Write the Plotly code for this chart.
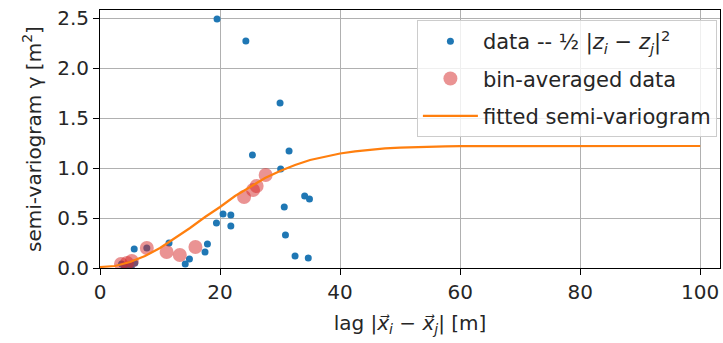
import plotly.graph_objects as go

# raw pair data: lag [m], semi-variance [m^2]
data_lag = [19.5, 24.3, 30.0, 31.5, 25.4, 30.1, 34.1, 34.9, 30.7, 20.5, 21.8, 21.8,
            19.4, 17.9, 17.5, 30.9, 32.5, 34.7, 14.2, 14.9, 11.5, 5.7, 7.8,
            3.6, 4.0, 4.8, 5.2, 5.8]
data_gamma = [2.49, 2.27, 1.65, 1.17, 1.13, 0.99, 0.72, 0.69, 0.61, 0.54, 0.53, 0.42,
              0.45, 0.24, 0.16, 0.33, 0.12, 0.10, 0.04, 0.09, 0.25, 0.19, 0.20,
              0.04, 0.02, 0.03, 0.01, 0.05]

# bin-averaged data
bin_lag = [3.5, 4.5, 5.3, 7.8, 11.1, 13.3, 15.9, 24.0, 25.5, 26.1, 27.6]
bin_gamma = [0.04, 0.05, 0.07, 0.20, 0.16, 0.13, 0.21, 0.71, 0.78, 0.82, 0.93]

# fitted semi-variogram
fit_lag = [0, 2.5, 5, 7.5, 10, 12.5, 15, 17.5, 20, 22.5, 25, 27.5, 30, 32.5, 35,
           37.5, 40, 42.5, 45, 47.5, 50, 52.5, 55, 57.5, 60, 65, 70, 80, 90, 100]
fit_gamma = [0.01, 0.02, 0.06, 0.12, 0.20, 0.30, 0.40, 0.51, 0.61, 0.72, 0.81, 0.90,
             0.97, 1.03, 1.08, 1.115, 1.145, 1.167, 1.184, 1.196, 1.204, 1.210, 1.214,
             1.216, 1.218, 1.219, 1.22, 1.22, 1.22, 1.22]

x_ticks = [0, 20, 40, 60, 80, 100]
y_ticks = [0.0, 0.5, 1.0, 1.5, 2.0, 2.5]

FS = 20
TXT = "#262626"

fig = go.Figure()
fig.add_trace(go.Scatter(
    x=data_lag, y=data_gamma, mode="markers",
    marker=dict(color="#1f77b4", size=7),
    legendgroup="a",
    name="data -- ½ |<i>z<sub>i</sub></i> − <i>z<sub>j</sub></i>|<sup>2</sup>"))
fig.add_trace(go.Scatter(
    x=bin_lag, y=bin_gamma, mode="markers",
    marker=dict(color="rgba(214,39,40,0.5)", size=14, line=dict(width=0)),
    legendgroup="b",
    name="bin-averaged data"))
fig.add_trace(go.Scatter(
    x=fit_lag, y=fit_gamma, mode="lines",
    line=dict(color="#ff7f0e", width=2.2),
    legendgroup="c",
    name="fitted semi-variogram"))

axis_common = dict(
    showline=True, linecolor="black", linewidth=1, mirror=True,
    showgrid=True, gridcolor="#b0b0b0", gridwidth=1,
    ticks="outside", ticklen=6, tickcolor="black",
    zeroline=False, tickfont=dict(size=FS, color=TXT),
)
fig.update_xaxes(range=[0, 103.3], tickvals=x_ticks,
                 title=dict(text="lag |<i>x⃗<sub>i</sub></i> − <i>x⃗<sub>j</sub></i>| [m]",
                            font=dict(size=FS, color=TXT), standoff=12),
                 **axis_common)
fig.update_yaxes(range=[0, 2.58], tickvals=y_ticks, tickformat=".1f",
                 title=dict(text="semi-variogram γ [m<sup>2</sup>]",
                            font=dict(size=FS, color=TXT), standoff=10),
                 **axis_common)

fig.update_layout(
    width=723, height=343,
    margin=dict(l=100, r=3, t=10, b=75),
    plot_bgcolor="white", paper_bgcolor="white",
    font=dict(family="DejaVu Sans", size=FS, color=TXT),
    legend=dict(x=0.995, y=0.961, xanchor="right", yanchor="top",
                bgcolor="rgba(255,255,255,0.8)", bordercolor="#cccccc", borderwidth=1,
                font=dict(size=21), itemsizing="trace", tracegroupgap=7,
                itemwidth=55),
    showlegend=True,
)

fig.write_html("out.html")
